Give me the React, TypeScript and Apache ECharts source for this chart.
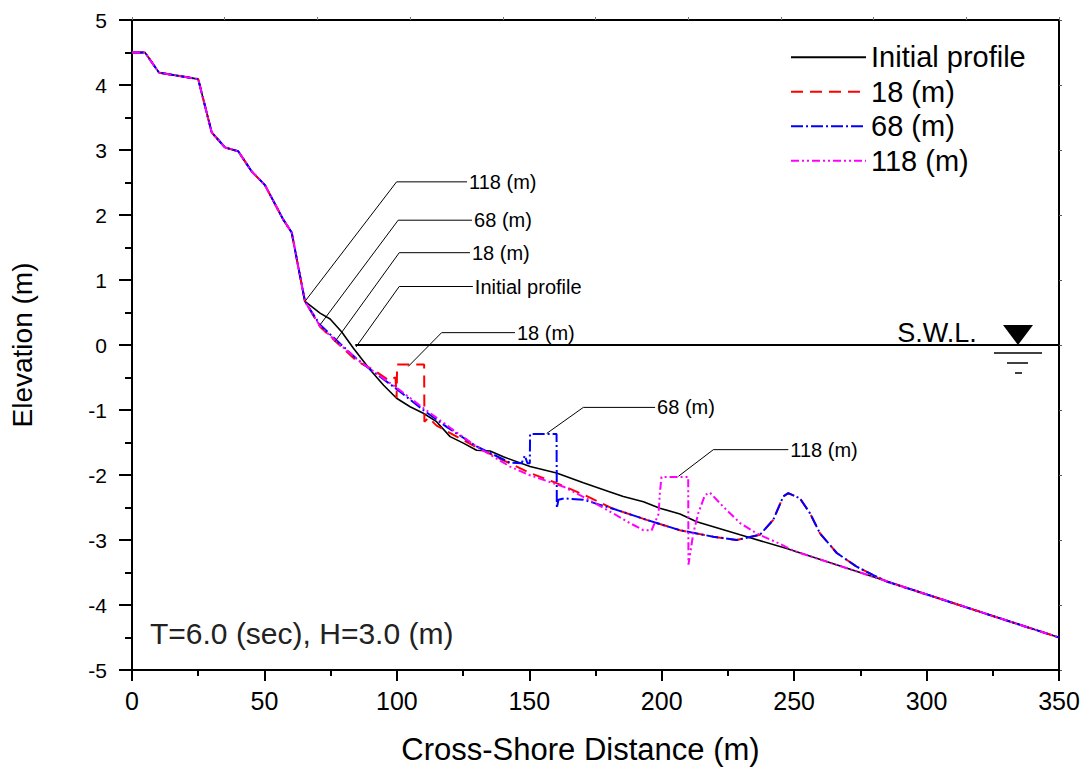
import React, { useEffect, useRef } from "react";
import * as echarts from "echarts";

// Shared upper beach profile (identical for all cases)
const upperProfile: number[][] = [
  [0, 4.5], [4.9, 4.5], [10.2, 4.19], [25, 4.09], [30.1, 3.27], [35.1, 3.04],
  [40.1, 2.98], [45.2, 2.67], [50.2, 2.46], [57.1, 1.93], [60.3, 1.73], [65.3, 0.67],
];

const initialTail: number[][] = [
  [71, 0.49], [74.8, 0.4], [79.2, 0.2], [83.6, -0.05], [89.9, -0.38], [95, -0.62],
  [99.9, -0.82], [105, -0.95], [110, -1.05], [115, -1.18], [120.1, -1.41], [125.1, -1.51],
  [130.1, -1.62], [135.2, -1.63], [140.2, -1.72], [150.3, -1.87], [160.3, -1.97],
  [170.4, -2.12], [180.5, -2.26], [185.5, -2.33], [193.1, -2.41], [199.3, -2.51],
  [206.9, -2.6], [213.2, -2.72], [229.6, -2.92], [247.2, -3.13], [350, -4.5],
];

const tail18: number[][] = [
  [71, 0.28], [77, 0.05], [85, -0.25], [91, -0.38], [96.8, -0.54], [99.5, -0.5],
  [99.9, -0.82], [100.1, -0.3], [110.3, -0.3], [110.4, -1.18], [112, -1.12],
  [115, -1.24], [122.6, -1.41], [130, -1.57], [140, -1.77], [150.3, -1.97],
  [160, -2.12], [170.4, -2.3], [181.7, -2.52], [194.3, -2.69], [206.9, -2.85],
  [219.5, -2.95], [228.3, -3.0], [237.1, -2.92], [242.1, -2.69], [245.9, -2.33],
  [247.8, -2.28], [252.2, -2.36], [256, -2.59], [259.8, -2.9], [266.1, -3.2],
  [273.6, -3.41], [279.9, -3.54], [285, -3.64], [350, -4.5],
];

const tail68: number[][] = [
  [71, 0.31], [77, 0.08], [85, -0.22], [91.1, -0.41], [100, -0.68], [110, -1.0],
  [118.8, -1.26], [130.1, -1.56], [142.7, -1.81], [147.1, -1.82], [148.3, -1.7],
  [149.3, -1.82], [150.2, -1.82], [150.3, -1.37], [160.3, -1.37], [160.4, -2.51],
  [161, -2.38], [163, -2.36], [170.4, -2.38], [181.7, -2.52], [194.3, -2.69],
  [206.9, -2.85], [219.5, -2.95], [228.3, -3.0], [237.1, -2.92], [242.1, -2.69],
  [245.9, -2.33], [247.8, -2.28], [252.2, -2.36], [256, -2.59], [259.8, -2.9],
  [266.1, -3.2], [273.6, -3.41], [279.9, -3.54], [285, -3.64], [350, -4.5],
];

const tail118: number[][] = [
  [71, 0.29], [77, 0.06], [85, -0.22], [91, -0.4], [100, -0.66], [110, -0.97],
  [120, -1.27], [130, -1.56], [142.7, -1.87], [150, -2.0], [162.9, -2.18],
  [172, -2.37], [181.7, -2.59], [188, -2.74], [193.1, -2.85], [196.2, -2.85],
  [198.8, -2.6], [199.3, -2.28], [199.9, -2.03], [210, -2.03], [210.1, -3.38],
  [211.9, -2.9], [213.8, -2.59], [216.3, -2.31], [218.2, -2.27], [223.3, -2.49],
  [229.6, -2.74], [235.9, -2.9], [244.7, -3.06], [250, -3.17], [350, -4.5],
];

const seriesNames = ["Initial profile", "18 (m)", "68 (m)", "118 (m)"];
const seriesColors = ["#000000", "#ff0000", "#0000ff", "#ff00ff"];

const swlLine: number[][] = [[84.3, 0], [350, 0]];

const leaderLabels = ["118 (m)", "68 (m)", "18 (m)", "Initial profile", "18 (m)", "68 (m)", "118 (m)"];
const leaderPaths: number[][][] = [
  [[65.3, 0.67], [99.9, 2.51], [126.5, 2.51]],
  [[71.0, 0.31], [100.5, 1.92], [128.4, 1.92]],
  [[76.6, 0.05], [100.9, 1.42], [127.6, 1.42]],
  [[84.6, -0.03], [100.9, 0.9], [128.7, 0.9]],
  [[104.3, -0.33], [116.9, 0.19], [144.6, 0.19]],
  [[156.6, -1.36], [170.4, -0.96], [197.5, -0.96]],
  [[206.3, -2.02], [219.5, -1.61], [247.8, -1.61]],
];

const xTicks = { min: 0, max: 350, interval: 50 };
const yTicks = { min: -5, max: 5, interval: 1 };

const FONT = "'Liberation Sans', Arial, Helvetica, sans-serif";

export default function App() {
  const ref = useRef<HTMLDivElement>(null);

  useEffect(() => {
    if (!ref.current) return;
    const chart = echarts.init(ref.current, undefined, { renderer: "svg" });

    const profiles = [
      upperProfile.concat(initialTail),
      upperProfile.concat(tail18),
      upperProfile.concat(tail68),
      upperProfile.concat(tail118),
    ];
    const dashes: any[] = ["solid", [12, 7], [12, 3, 2, 3], [8, 3, 2, 3, 2, 3]];
    const widths = [1.6, 2, 2, 2];

    const mainSeries = profiles.map((d, i) => ({
      name: seriesNames[i],
      type: "line",
      data: d,
      symbol: "none",
      showSymbol: false,
      xAxisIndex: 0,
      yAxisIndex: 0,
      lineStyle: { color: seriesColors[i], width: widths[i], type: dashes[i] },
      itemStyle: { color: seriesColors[i] },
      z: 3 + i,
      silent: true,
    }));

    const leaderSeries = leaderPaths.map((p, i) => ({
      name: "leader" + i,
      type: "line",
      data: p,
      symbol: "none",
      showSymbol: false,
      xAxisIndex: 0,
      yAxisIndex: 0,
      lineStyle: { color: "#000", width: 1 },
      endLabel: {
        show: true,
        formatter: () => leaderLabels[i],
        fontFamily: FONT,
        fontSize: 20,
        color: "#000",
        distance: 2,
      },
      z: 8,
      silent: true,
    }));

    const option: any = {
      animation: false,
      backgroundColor: "#ffffff",
      textStyle: { fontFamily: FONT },
      grid: { left: 132, right: 30, top: 20, bottom: 104 },
      legend: {
        data: seriesNames,
        orient: "vertical",
        left: 785,
        top: 35,
        itemWidth: 75,
        itemHeight: 14,
        itemGap: 0,
        itemStyle: { opacity: 0 },
        textStyle: { fontFamily: FONT, fontSize: 29, color: "#000", lineHeight: 34.5 },
        selectedMode: false,
      },
      xAxis: [
        {
          type: "value",
          position: "bottom",
          min: xTicks.min,
          max: xTicks.max,
          interval: xTicks.interval,
          name: "Cross-Shore Distance (m)",
          nameLocation: "middle",
          nameGap: 64,
          nameTextStyle: { fontFamily: FONT, fontSize: 31, color: "#000", padding: [0, 30, 0, 0] },
          axisLine: { show: true, onZero: false, lineStyle: { color: "#000", width: 2 } },
          axisTick: { show: true, inside: false, length: 11, lineStyle: { color: "#000", width: 2 } },
          minorTick: { show: true, splitNumber: 2, length: 6, lineStyle: { color: "#000", width: 2 } },
          axisLabel: { fontFamily: FONT, fontSize: 25, color: "#000", margin: 18 },
          splitLine: { show: false },
        },
        {
          type: "value",
          position: "top",
          min: 0,
          max: 350,
          interval: 35,
          axisLine: { show: true, onZero: false, lineStyle: { color: "#000", width: 2 } },
          axisTick: { show: true, inside: false, length: 3, lineStyle: { color: "#777", width: 1 } },
          axisLabel: { show: false },
          splitLine: { show: false },
        },
      ],
      yAxis: [
        {
          type: "value",
          position: "left",
          min: yTicks.min,
          max: yTicks.max,
          interval: yTicks.interval,
          name: "Elevation (m)",
          nameLocation: "middle",
          nameGap: 96,
          nameTextStyle: { fontFamily: FONT, fontSize: 28, color: "#000" },
          axisLine: { show: true, onZero: false, lineStyle: { color: "#000", width: 2 } },
          axisTick: { show: true, inside: false, length: 13, lineStyle: { color: "#000", width: 2 } },
          minorTick: { show: true, splitNumber: 2, length: 7, lineStyle: { color: "#000", width: 2 } },
          axisLabel: { fontFamily: FONT, fontSize: 21, color: "#000", margin: 25 },
          splitLine: { show: false },
        },
        {
          type: "value",
          position: "right",
          min: yTicks.min,
          max: yTicks.max,
          interval: yTicks.interval,
          axisLine: { show: true, onZero: false, lineStyle: { color: "#000", width: 2 } },
          axisTick: { show: true, inside: false, length: 3, lineStyle: { color: "#555", width: 1 } },
          axisLabel: { show: false },
          splitLine: { show: false },
        },
      ],
      series: [
        {
          name: "SWL",
          type: "line",
          data: swlLine,
          symbol: "none",
          showSymbol: false,
          xAxisIndex: 0,
          yAxisIndex: 0,
          lineStyle: { color: "#000", width: 2 },
          z: 2,
          silent: true,
        },
        ...mainSeries,
        ...leaderSeries,
      ],
      graphic: [
        {
          type: "text",
          left: 150,
          top: 618,
          style: { text: "T=6.0 (sec), H=3.0 (m)", fontFamily: FONT, fontSize: 30, fill: "#222" },
        },
        {
          type: "text",
          x: 937,
          y: 333,
          style: {
            text: "S.W.L.",
            fontFamily: FONT,
            fontSize: 27,
            fill: "#000",
            align: "center",
            verticalAlign: "middle",
          },
        },
        {
          type: "polygon",
          shape: { points: [[1003, 325], [1033, 325], [1018, 345]] },
          style: { fill: "#000" },
        },
        { type: "line", shape: { x1: 994, y1: 353, x2: 1042, y2: 353 }, style: { stroke: "#000", lineWidth: 1.5 } },
        { type: "line", shape: { x1: 1007, y1: 363, x2: 1028, y2: 363 }, style: { stroke: "#000", lineWidth: 1.5 } },
        { type: "line", shape: { x1: 1015, y1: 373, x2: 1022, y2: 373 }, style: { stroke: "#000", lineWidth: 1.5 } },
      ],
    };

    chart.setOption(option);
    return () => chart.dispose();
  }, []);

  return (
    <div
      ref={ref}
      style={{ position: "fixed", left: 0, top: 0, width: 1089, height: 774, background: "#fff" }}
    />
  );
}
